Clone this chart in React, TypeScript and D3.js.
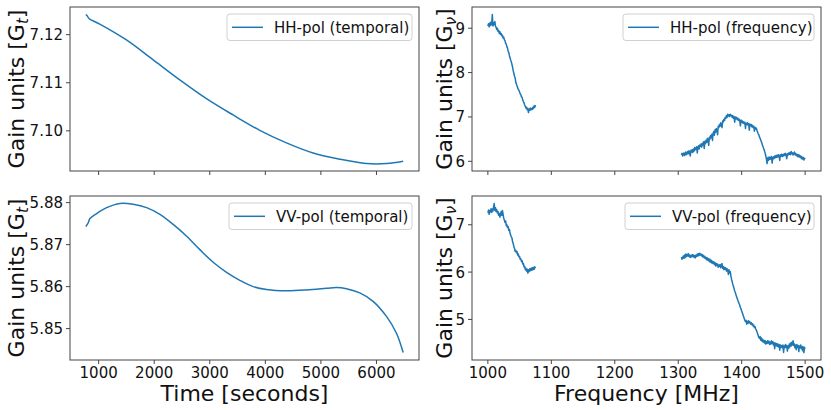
import React from "react";
import * as d3 from "d3";

// temporal gain solutions
const hhTime = [770, 800, 830, 1020, 1500, 2000, 2460, 2940, 3420, 3900, 4380, 4860, 5340, 5820, 6180, 6480];
const hhTempGain = [7.1242, 7.1238, 7.1233, 7.1222, 7.1189, 7.1146, 7.1106, 7.1067, 7.1033, 7.1001, 7.0975, 7.0954, 7.0941, 7.0932, 7.0932, 7.0937];

const vvTime = [770, 813, 843, 964, 1144, 1383, 1622, 1863, 2103, 2342, 2583, 2822, 3061, 3302, 3541, 3781, 4022, 4381, 4741, 5101, 5280, 5460, 5700, 5939, 6180, 6360, 6480];
const vvTempGain = [5.8743, 5.8752, 5.8762, 5.8774, 5.8788, 5.8798, 5.8796, 5.8788, 5.8772, 5.8748, 5.872, 5.8688, 5.8658, 5.8634, 5.8615, 5.86, 5.8593, 5.859, 5.8592, 5.8596, 5.8598, 5.8595, 5.8585, 5.8565, 5.8529, 5.8489, 5.8443];

// frequency channels (1 MHz), lower and upper band
const freqLow = d3.range(1000, 1076);
const freqHigh = d3.range(1305, 1501);

const hhFreqLow = [
  9.05, 9.1, 9.03, 9.12, 9.06, 9.14, 9.08, 9.31, 9.05, 9.12,
  9.08, 9.15, 9.05, 9.02, 8.97, 9.0, 8.93, 8.95, 8.88, 8.92,
  8.86, 8.88, 8.83, 8.84, 8.78, 8.8, 8.74, 8.72, 8.66, 8.64,
  8.58, 8.55, 8.48, 8.45, 8.38, 8.33, 8.28, 8.24, 8.18, 8.12,
  8.04, 7.98, 7.92, 7.88, 7.78, 7.74, 7.7, 7.66, 7.62, 7.6,
  7.56, 7.52, 7.5, 7.45, 7.44, 7.38, 7.34, 7.32, 7.27, 7.24,
  7.2, 7.22, 7.16, 7.19, 7.1, 7.18, 7.15, 7.2, 7.16, 7.19,
  7.17, 7.22, 7.19, 7.25, 7.22, 7.27,
];
const hhFreqHigh = [
  6.14, 6.18, 6.12, 6.17, 6.19, 6.13, 6.16, 6.21, 6.15, 6.18,
  6.22, 6.17, 6.24, 6.19, 6.12, 6.25, 6.21, 6.26, 6.2, 6.28,
  6.23, 6.31, 6.26, 6.29, 6.33, 6.19, 6.31, 6.35, 6.28, 6.37,
  6.34, 6.39, 6.32, 6.41, 6.37, 6.44, 6.29, 6.45, 6.4, 6.48,
  6.43, 6.52, 6.47, 6.36, 6.54, 6.5, 6.58, 6.53, 6.61, 6.47,
  6.63, 6.67, 6.59, 6.71, 6.66, 6.74, 6.7, 6.6, 6.79, 6.76,
  6.83, 6.79, 6.87, 6.84, 6.76, 6.91, 6.89, 6.95, 6.92, 6.99,
  6.97, 7.03, 6.99, 7.06, 7.02, 7.05, 7.01, 7.06, 7.03, 7.04,
  6.99, 7.03, 6.97, 7.01, 6.88, 7.0, 6.96, 6.99, 6.94, 6.97,
  6.92, 6.95, 6.91, 6.8, 6.93, 6.88, 6.91, 6.86, 6.89, 6.85,
  6.88, 6.74, 6.86, 6.83, 6.87, 6.82, 6.85, 6.7, 6.84, 6.8,
  6.83, 6.78, 6.81, 6.76, 6.79, 6.68, 6.77, 6.73, 6.75, 6.7,
  6.66, 6.62, 6.6, 6.55, 6.52, 6.48, 6.44, 6.4, 6.35, 6.32,
  6.27, 6.23, 6.18, 6.12, 6.05, 5.95, 6.08, 6.02, 6.1, 6.04,
  6.09, 6.05, 6.11, 5.96, 6.08, 6.1, 6.06, 6.12, 6.08, 6.13,
  6.09, 6.14, 6.1, 6.15, 6.11, 6.02, 6.15, 6.12, 6.16, 6.11,
  6.15, 6.12, 6.17, 6.14, 6.18, 6.13, 6.06, 6.17, 6.14, 6.19,
  6.16, 6.2, 6.15, 6.22, 6.17, 6.19, 6.14, 6.18, 6.21, 6.15,
  6.18, 6.13, 6.16, 6.11, 6.15, 6.1, 6.14, 6.09, 6.12, 6.06,
  6.1, 6.05, 6.09, 6.03, 6.07, 6.05,
];

const vvFreqLow = [
  7.25, 7.31, 7.22, 7.3, 7.27, 7.34, 7.26, 7.33, 7.29, 7.38,
  7.45, 7.3, 7.36, 7.28, 7.32, 7.25, 7.28, 7.2, 7.24, 7.16,
  7.22, 7.28, 7.2, 7.3, 7.22, 7.14, 7.1, 7.05, 7.08, 6.98,
  7.0, 6.94, 6.96, 6.88, 6.9, 6.82, 6.78, 6.74, 6.72, 6.64,
  6.6, 6.54, 6.5, 6.44, 6.46, 6.41, 6.43, 6.36, 6.38, 6.32,
  6.33, 6.27, 6.28, 6.22, 6.24, 6.17, 6.18, 6.11, 6.12, 6.05,
  6.08, 6.02, 6.06, 5.98, 6.05, 6.01, 6.07, 6.03, 6.08, 6.04,
  6.09, 6.05, 6.1, 6.06, 6.11, 6.08,
];
const vvFreqHigh = [
  6.32, 6.27, 6.3, 6.34, 6.29, 6.36, 6.31, 6.38, 6.33, 6.37,
  6.34, 6.39, 6.33, 6.36, 6.31, 6.35, 6.32, 6.37, 6.33, 6.36,
  6.31, 6.35, 6.3, 6.36, 6.33, 6.38, 6.34, 6.39, 6.35, 6.4,
  6.36, 6.38, 6.34, 6.37, 6.32, 6.35, 6.3, 6.33, 6.28, 6.31,
  6.26, 6.3, 6.25, 6.28, 6.22, 6.27, 6.21, 6.25, 6.19, 6.23,
  6.18, 6.22, 6.16, 6.2, 6.13, 6.18, 6.14, 6.17, 6.1, 6.15,
  6.12, 6.16, 6.09, 6.14, 6.18, 6.08, 6.12, 6.05, 6.1, 6.06,
  6.09, 6.02, 6.07, 6.04, 5.95, 6.05, 5.98, 6.01, 5.92, 5.85,
  5.8, 5.74, 5.7, 5.65, 5.6, 5.57, 5.52, 5.48, 5.44, 5.4,
  5.37, 5.33, 5.3, 5.25, 5.22, 5.18, 5.14, 5.1, 5.06, 5.02,
  4.98, 4.95, 4.98, 4.9, 4.96, 4.92, 4.97, 4.93, 4.95, 4.9,
  4.93, 4.89, 4.91, 4.86, 4.88, 4.83, 4.85, 4.8, 4.78, 4.74,
  4.7, 4.66, 4.62, 4.6, 4.64, 4.56, 4.61, 4.54, 4.58, 4.52,
  4.56, 4.5, 4.55, 4.48, 4.53, 4.49, 4.55, 4.5, 4.54, 4.47,
  4.52, 4.48, 4.55, 4.49, 4.53, 4.46, 4.51, 4.38, 4.5, 4.45,
  4.49, 4.43, 4.48, 4.42, 4.47, 4.35, 4.46, 4.41, 4.45, 4.4,
  4.46, 4.3, 4.44, 4.4, 4.47, 4.41, 4.45, 4.33, 4.44, 4.39,
  4.48, 4.42, 4.5, 4.44, 4.52, 4.46, 4.55, 4.45, 4.48, 4.4,
  4.46, 4.36, 4.47, 4.41, 4.45, 4.32, 4.44, 4.4, 4.46, 4.38,
  4.43, 4.34, 4.42, 4.3, 4.41, 4.38,
];

const timeTicks = [1000, 2000, 3000, 4000, 5000, 6000];
const freqTicks = [1000, 1100, 1200, 1300, 1400, 1500];
const hhTempTicks = [7.1, 7.11, 7.12];
const vvTempTicks = [5.85, 5.86, 5.87, 5.88];
const hhFreqTicks = [6, 7, 8, 9];
const vvFreqTicks = [5, 6, 7];

const BLUE = "#1f77b4";
const FONT = "DejaVu Sans, sans-serif";

type Seg = { x: number; y: number }[];

const zip = (xs: number[], ys: number[]): Seg => xs.map((x, i) => ({ x, y: ys[i] }));

// matplotlib-style 5% autoscale margin
const padded = (vals: number[]): [number, number] => {
  const [lo, hi] = d3.extent(vals) as [number, number];
  const m = (hi - lo) * 0.05;
  return [lo - m, hi + m];
};

type PanelProps = {
  left: number;
  top: number;
  width: number;
  height: number;
  segments: Seg[];
  xTicks: number[];
  yTicks: number[];
  yFmt: (v: number) => string;
  showXLabels: boolean;
  xLabel?: string;
  ySub: string;
  yLabelOffset: number;
  legend: string;
  legendWidth: number;
  smooth: boolean;
};

const Panel: React.FC<PanelProps> = (p) => {
  const all = p.segments.flat();
  const x = d3.scaleLinear().domain(padded(all.map((d) => d.x))).range([p.left, p.left + p.width]);
  const y = d3.scaleLinear().domain(padded(all.map((d) => d.y))).range([p.top + p.height, p.top]);
  const line = d3
    .line<{ x: number; y: number }>()
    .x((d) => x(d.x))
    .y((d) => y(d.y))
    .curve(p.smooth ? d3.curveCatmullRom.alpha(0.5) : d3.curveLinear);
  const bottom = p.top + p.height;
  const lgX = p.left + p.width - 7 - p.legendWidth;
  const lgY = p.top + 7;

  return (
    <g fontFamily={FONT}>
      {p.segments.map((s, i) => (
        <path key={i} d={line(s) || ""} fill="none" stroke={BLUE} strokeWidth={1.5} strokeLinejoin="round" />
      ))}
      <rect x={p.left} y={p.top} width={p.width} height={p.height} fill="none" stroke="#444" strokeWidth={1} />
      {p.xTicks.map((t) => (
        <g key={t}>
          <line x1={x(t)} x2={x(t)} y1={bottom} y2={bottom + 4} stroke="#444" />
          {p.showXLabels && (
            <text x={x(t)} y={bottom + 17.5} fontSize={15} textAnchor="middle" fill="#111">
              {t}
            </text>
          )}
        </g>
      ))}
      {p.yTicks.map((t) => (
        <g key={t}>
          <line x1={p.left - 4} x2={p.left} y1={y(t)} y2={y(t)} stroke="#444" />
          <text x={p.left - 7} y={y(t) + 5.5} fontSize={15} textAnchor="end" fill="#111">
            {p.yFmt(t)}
          </text>
        </g>
      ))}
      <text
        transform={`translate(${p.left - p.yLabelOffset},${p.top + p.height / 2}) rotate(-90)`}
        fontSize={22}
        textAnchor="middle"
        fill="#111"
      >
        Gain units [G
        <tspan fontSize={15} fontStyle="italic" dy={4}>
          {p.ySub}
        </tspan>
        <tspan dy={-4}>]</tspan>
      </text>
      {p.xLabel && (
        <text x={p.left + p.width / 2} y={bottom + 40.5} fontSize={22} textAnchor="middle" fill="#111">
          {p.xLabel}
        </text>
      )}
      <rect x={lgX} y={lgY} width={p.legendWidth} height={26.5} rx={3} fill="white" fillOpacity={0.8} stroke="#d0d0d0" />
      <line x1={lgX + 5} x2={lgX + 36} y1={lgY + 13.3} y2={lgY + 13.3} stroke={BLUE} strokeWidth={1.5} />
      <text x={lgX + 47} y={lgY + 18.6} fontSize={15} fill="#111">
        {p.legend}
      </text>
    </g>
  );
};

const App: React.FC = () => {
  const fmt2 = d3.format(".2f");
  const fmt0 = d3.format("d");
  return (
    <svg width={831} height={410} style={{ position: "absolute", left: 0, top: 0, background: "white" }}>
      <Panel
        left={70} top={7} width={349} height={164}
        segments={[zip(hhTime, hhTempGain)]}
        xTicks={timeTicks} yTicks={hhTempTicks} yFmt={fmt2}
        showXLabels={false} ySub="t" yLabelOffset={46} legend="HH-pol (temporal)" legendWidth={185} smooth
      />
      <Panel
        left={472} top={7} width={349} height={164}
        segments={[zip(freqLow, hhFreqLow), zip(freqHigh, hhFreqHigh)]}
        xTicks={freqTicks} yTicks={hhFreqTicks} yFmt={fmt0}
        showXLabels={false} ySub="ν" yLabelOffset={20} legend="HH-pol (frequency)" legendWidth={191} smooth={false}
      />
      <Panel
        left={70} top={196} width={349} height={164}
        segments={[zip(vvTime, vvTempGain)]}
        xTicks={timeTicks} yTicks={vvTempTicks} yFmt={fmt2}
        showXLabels xLabel="Time [seconds]" ySub="t" yLabelOffset={46} legend="VV-pol (temporal)" legendWidth={183} smooth
      />
      <Panel
        left={472} top={196} width={349} height={164}
        segments={[zip(freqLow, vvFreqLow), zip(freqHigh, vvFreqHigh)]}
        xTicks={freqTicks} yTicks={vvFreqTicks} yFmt={fmt0}
        showXLabels xLabel="Frequency [MHz]" ySub="ν" yLabelOffset={20} legend="VV-pol (frequency)" legendWidth={189} smooth={false}
      />
    </svg>
  );
};

export default App;
